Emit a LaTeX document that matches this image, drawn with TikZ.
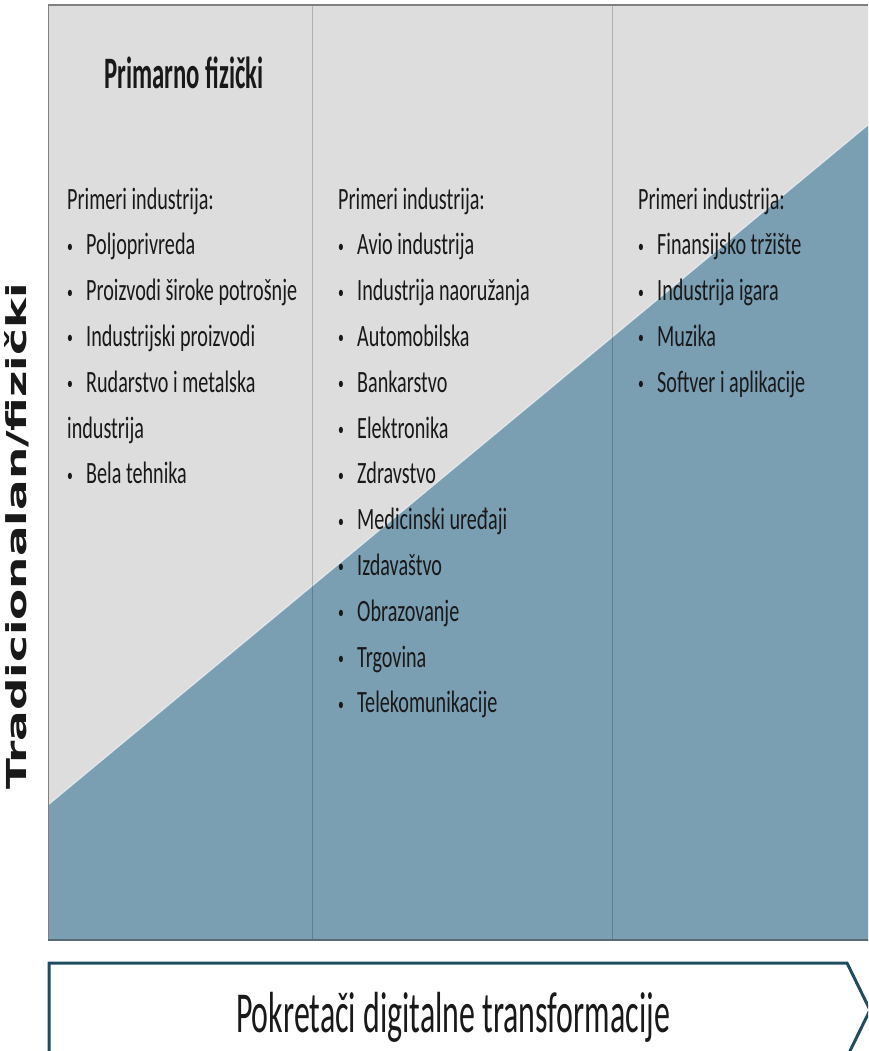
\documentclass[tikz,border=0pt]{standalone}
\usepackage{fontspec}
\setmainfont{Carlito}[FakeStretch=0.65]
\newfontfamily\sidefont{DejaVu Sans}[FakeStretch=1.65]
\newfontfamily\drvfont{Carlito}[FakeStretch=0.55]
\definecolor{pgray}{RGB}{221,221,221}
\definecolor{pblue}{RGB}{122,158,178}
\definecolor{pline}{RGB}{88,108,118}
\definecolor{pedge}{RGB}{30,77,95}
\newcommand{\bul}{\makebox[19pt][l]{\raisebox{2.5pt}{\fontsize{18}{18}\selectfont\textbullet}}}
\tikzset{every node/.style={inner sep=0pt,text=black!90}}
\tikzset{txt/.style={anchor=base west,font=\fontsize{31}{36}\selectfont}}
\tikzset{ttl/.style={anchor=base,font=\drvfont\bfseries\fontsize{45}{50}\selectfont}}
\tikzset{side/.style={anchor=base west,rotate=90,font=\sidefont\bfseries\fontsize{27.5}{30}\selectfont}}
\tikzset{drv/.style={anchor=base,font=\drvfont\fontsize{58}{64}\selectfont}}
\tikzset{div/.style={black,opacity=.2,line width=1pt}}

\begin{document}
\begin{tikzpicture}[x=1pt,y=-1pt]
  \useasboundingbox (0,0) rectangle (868,1051);
  \clip (0,0) rectangle (868,1051);
  \fill[white] (0,0) rectangle (868,1051);
  % panel
  \fill[pgray] (48,5) rectangle (880,940);
  \fill[pblue] (48,805) -- (880,115) -- (880,940) -- (48,940) -- cycle;
  \draw[white,opacity=.6,line width=1.2pt] (48,805) -- (880,115);
  \draw[div] (312,5) -- (312,940);
  \draw[div] (612,5) -- (612,940);
  \draw[gray,line width=2pt] (48,5) -- (880,5);
  \draw[gray,line width=1pt] (48,5) -- (48,940);
  \draw[pline,line width=2pt] (48,940) -- (880,940);
  % arrow
  \draw[pedge,line width=3pt,fill=white] (49,963) -- (847,963) -- (870,1010) -- (847,1057) -- (49,1057) -- cycle;
  \node[side] (side) at (27,790) {Tradicionalan/fizički};
  \node[ttl] (ttl) at (184,89) {Primarno fizički};
  % columns
  \node[txt] (p1) at (67,209) {Primeri industrija:};
  \foreach \t/\k in {Poljoprivreda/1,Proizvodi široke potrošnje/2,Industrijski proizvodi/3,Rudarstvo i metalska/4,Bela tehnika/6}
    \node[txt] (a\k) at (67,209+45.8*\k) {\bul\t};
  \node[txt] (a5) at (67,209+45.8*5) {industrija};
  \node[txt] (p2) at (338,209) {Primeri industrija:};
  \foreach \t [count=\k] in {Avio industrija,Industrija naoružanja,Automobilska,Bankarstvo,Elektronika,Zdravstvo,Medicinski uređaji,Izdavaštvo,Obrazovanje,Trgovina,Telekomunikacije}
    \node[txt] (b\k) at (338,209+45.8*\k) {\bul\t};
  \node[txt] (p3) at (638,209) {Primeri industrija:};
  \foreach \t [count=\k] in {Finansijsko tržište,Industrija igara,Muzika,Softver i aplikacije}
    \node[txt] (c\k) at (638,209+45.8*\k) {\bul\t};
  \node[drv] (drv) at (453,1032) {Pokretači digitalne transformacije};
\end{tikzpicture}
\end{document}
